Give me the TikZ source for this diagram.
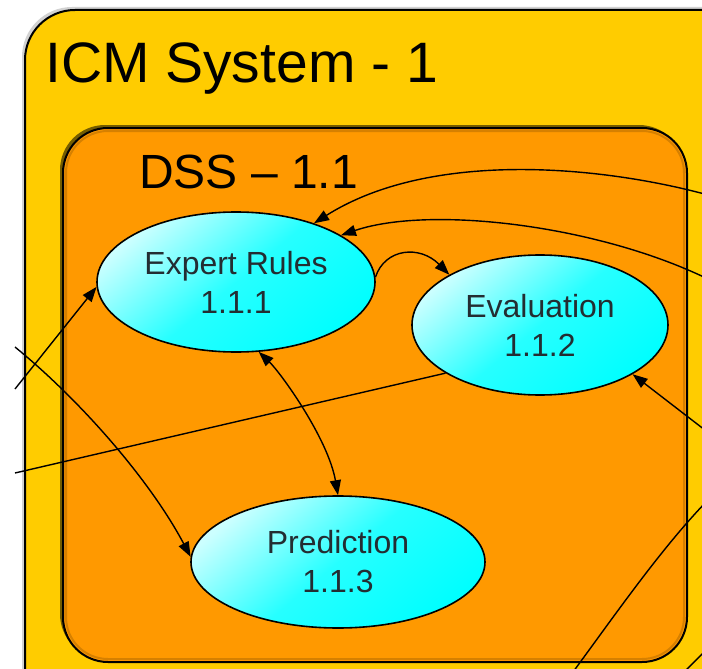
\documentclass[tikz,border=0pt]{standalone}
\usepackage{fontspec}
\setmainfont{Liberation Sans}
\usetikzlibrary{shapes.geometric,arrows.meta}
\definecolor{icmgul}{RGB}{255,204,0}
\definecolor{dssoransje}{RGB}{255,153,0}
\definecolor{tekstgraa}{RGB}{35,45,50}

\begin{document}
\begin{tikzpicture}[x=1pt,y=-1pt,
		prosess/.style={ellipse, draw=black, line width=1.6pt, inner sep=0pt,
			top color=cyan!20, bottom color=cyan, middle color=cyan!85, shading angle=40,
			text=tekstgraa, align=center, font=\fontsize{32}{39}\selectfont},
		linje/.style={line width=1.4pt},
		flyt/.style={linje, -{Triangle[length=15pt,width=11pt]}},
		tovei/.style={linje, {Triangle[length=15pt,width=11pt]}-{Triangle[length=15pt,width=11pt]}}]
		\useasboundingbox (0,0) rectangle (702,669);
		\clip (0,0) rectangle (702,669);
		
		% Ytre system
		\fill[gray!35, rounded corners=50pt] (22,7) rectangle (760,730);
		\filldraw[fill=icmgul, draw=black, line width=2pt, rounded corners=50pt] (25,10) rectangle (760,730);
		\node[anchor=base west, inner sep=0pt, font=\fontsize{57}{60}\selectfont] (tittel) at (45,82) {ICM System - 1};
		
		% DSS-boksen
		\fill[black!55!icmgul, rounded corners=45pt] (60,125) rectangle (684,659);
		\filldraw[fill=dssoransje, draw=black, line width=2pt, rounded corners=45pt] (63,128) rectangle (687,662);
		\draw[dssoransje!60!black, opacity=0.4, line width=2pt, rounded corners=42pt] (66,131) rectangle (684,659);
		\node[anchor=base west, inner sep=0pt, font=\fontsize{48}{50}\selectfont] (dss) at (139,188) {DSS -- 1.1};
		
		% Prosessene
		\node[prosess, minimum width=278pt, minimum height=140pt] (ekspert) at (236,282) {Expert Rules\\1.1.1};
		\node[prosess, minimum width=256pt, minimum height=140pt] (evaluering) at (540,325) {Evaluation\\1.1.2};
		\node[prosess, minimum width=294pt, minimum height=132pt] (prediksjon) at (338,562) {Prediction\\1.1.3};
		
		% Frie endepunkter utenfor utsnittet
		\coordinate (h1) at (712,196);
		\coordinate (h2) at (712,281);
		\coordinate (h3) at (714,437);
		\coordinate (v1) at (15,347);
		\coordinate (v2) at (15,389);
		\coordinate (v3) at (15,473);
		\coordinate (b1) at (573,672);
		\coordinate (b2) at (706,502);
		\coordinate (b3) at (684,672);
		\coordinate (b4) at (706,650);
		
		% Piler inn mot Expert Rules
		\draw[flyt] (h1) .. controls (600,165) and (430,150) .. (ekspert.37);
		\draw[flyt] (h2) .. controls (600,225) and (430,205) .. (ekspert.24);
		\draw[flyt] (v2) -- (ekspert.182);
		
		% Mellom prosessene
		\draw[flyt] (ekspert.2) .. controls (385,248) and (420,245) .. (evaluering.151);
		\draw[tovei] (ekspert.-72) .. controls (280,372) and (328,438) .. (prediksjon.north);
		\draw[flyt] (v1) .. controls (80,400) and (150,480) .. (prediksjon.178);
		
		% Evaluation
		\draw[linje] (v3) -- (evaluering.207);
		\draw[flyt] (h3) -- (evaluering.-28);
		
		% Linjer nede til hoyre
		\draw[linje] (b1) .. controls (615,615) and (660,550) .. (b2);
		\draw[linje] (b3) -- (b4);
	\end{tikzpicture}
\end{document}
